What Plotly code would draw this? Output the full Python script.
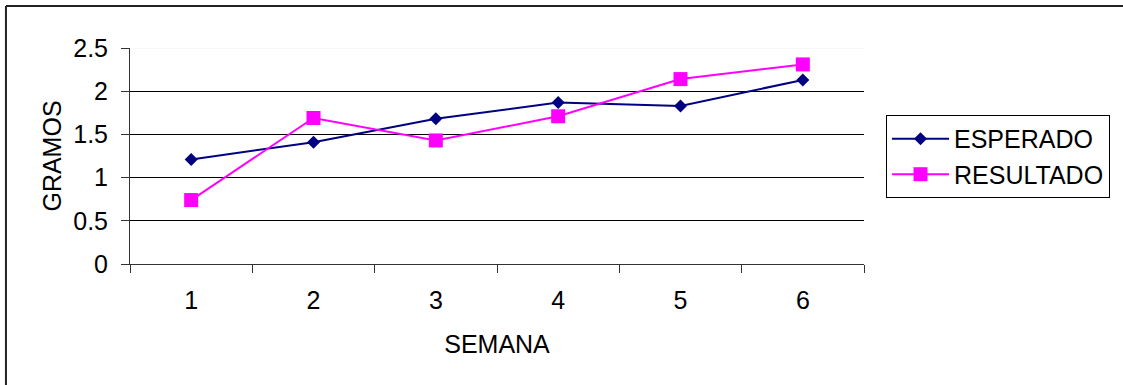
import plotly.graph_objects as go

# Weekly weight (grams): expected vs. obtained
semanas = ["1", "2", "3", "4", "5", "6"]
esperado = [1.21, 1.41, 1.68, 1.87, 1.83, 2.13]
resultado = [0.74, 1.69, 1.43, 1.71, 2.14, 2.31]
y_ticks = [0, 0.5, 1, 1.5, 2, 2.5]
y_tick_text = ["0", "0.5", "1", "1.5", "2", "2.5"]

FONT = "Liberation Sans, Arial, sans-serif"

fig = go.Figure()
fig.add_trace(go.Scatter(
    x=semanas, y=esperado, name="ESPERADO", mode="lines+markers",
    line=dict(color="#000080", width=2),
    marker=dict(symbol="diamond", size=10, color="#000080"),
))
fig.add_trace(go.Scatter(
    x=semanas, y=resultado, name="RESULTADO", mode="lines+markers",
    line=dict(color="#FF00FF", width=2),
    marker=dict(symbol="square", size=14, color="#FF00FF"),
))

fig.update_layout(
    width=1123, height=385,
    margin=dict(l=130, r=259, t=48, b=121),
    paper_bgcolor="white", plot_bgcolor="white",
    font=dict(family=FONT, size=25, color="black"),
    showlegend=True,
    legend=dict(
        x=1.03, y=0.69, xanchor="left", yanchor="top",
        bordercolor="black", borderwidth=1, bgcolor="white",
        font=dict(family=FONT, size=25, color="black"),
        itemwidth=57, tracegroupgap=0,
    ),
    xaxis=dict(
        type="category", range=[-0.5, 5.5],
        tickson="boundaries", ticks="outside", ticklen=8, tickcolor="#333",
        ticklabelstandoff=14,
        showline=True, linecolor="#333", linewidth=1,
        showgrid=False, zeroline=False,
        title=dict(text="SEMANA", standoff=22, font=dict(family=FONT, size=25)),
        tickfont=dict(size=25),
    ),
    yaxis=dict(
        range=[0, 2.5], tickvals=y_ticks, ticktext=y_tick_text,
        ticks="outside", ticklen=8, tickcolor="#333",
        ticklabelstandoff=8,
        showline=True, linecolor="#333", linewidth=1,
        showgrid=True, gridcolor="black", gridwidth=1, zeroline=False,
        title=dict(text="GRAMOS", standoff=4, font=dict(family=FONT, size=25)),
        tickfont=dict(size=25),
    ),
    shapes=[
        # soften the top gridline at 2.5
        dict(type="line", xref="paper", yref="y", x0=0.002, x1=1, y0=2.5, y1=2.5,
             line=dict(color="#f2f2f2", width=1), layer="above"),
        # outer chart frame: top and left edges
        dict(type="line", xref="paper", yref="paper",
             x0=-0.169, x1=1.6, y0=1.194, y1=1.194,
             line=dict(color="#222", width=2), layer="below"),
        dict(type="line", xref="paper", yref="paper",
             x0=-0.169, x1=-0.169, y0=-0.7, y1=1.194,
             line=dict(color="#222", width=2), layer="below"),
    ],
)

fig.write_html("out.html")
